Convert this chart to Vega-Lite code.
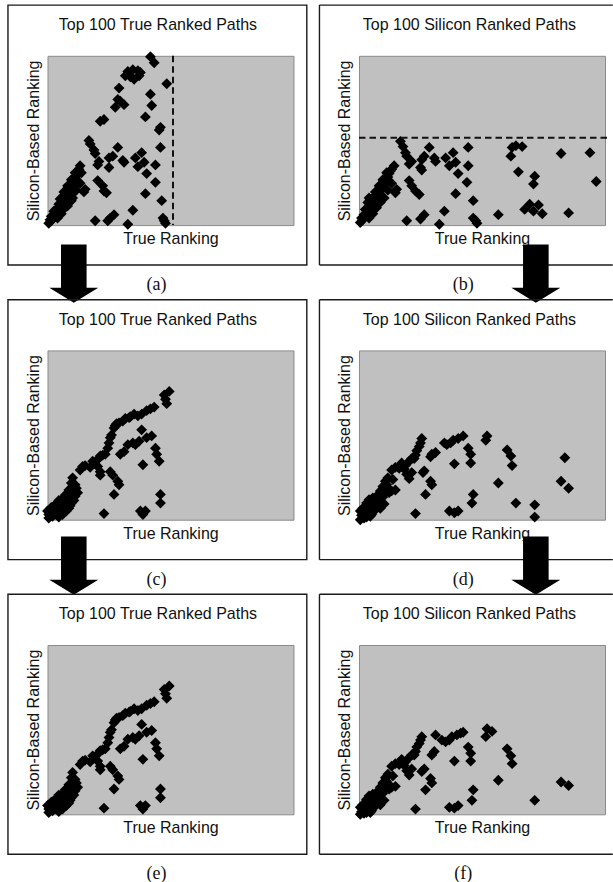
{
  "$schema": "https://vega.github.io/schema/vega-lite/v6.json",
  "background": "white",
  "padding": {"left": 6.5, "top": 3.8, "right": 0, "bottom": 0},
  "autosize": {"type": "pad"},
  "columns": 2,
  "spacing": {"row": 124.6, "column": 65.5},
  "bounds": "flush",
  "datasets": {
    "a": [
      {"true_rank":82,"si_rank":193},{"true_rank":85,"si_rank":186},{"true_rank":64,"si_rank":176},{"true_rank":68,"si_rank":178},{"true_rank":72,"si_rank":177},{"true_rank":74,"si_rank":175},{"true_rank":62,"si_rank":171},{"true_rank":66,"si_rank":170},{"true_rank":69,"si_rank":167},{"true_rank":73,"si_rank":171},{"true_rank":95,"si_rank":162},{"true_rank":57,"si_rank":157},{"true_rank":82,"si_rank":150},{"true_rank":56,"si_rank":144},{"true_rank":58,"si_rank":142},{"true_rank":61,"si_rank":138},{"true_rank":83,"si_rank":137},{"true_rank":54,"si_rank":135},{"true_rank":78,"si_rank":124},{"true_rank":42,"si_rank":119},{"true_rank":45,"si_rank":121},{"true_rank":90,"si_rank":112},{"true_rank":89,"si_rank":109},{"true_rank":33,"si_rank":97},{"true_rank":34,"si_rank":93},{"true_rank":56,"si_rank":89},{"true_rank":37,"si_rank":86},{"true_rank":38,"si_rank":82},{"true_rank":90,"si_rank":89},{"true_rank":75,"si_rank":83},{"true_rank":52,"si_rank":79},{"true_rank":49,"si_rank":77},{"true_rank":70,"si_rank":77},{"true_rank":77,"si_rank":72},{"true_rank":72,"si_rank":67},{"true_rank":41,"si_rank":73},{"true_rank":40,"si_rank":69},{"true_rank":60,"si_rank":74},{"true_rank":61,"si_rank":72},{"true_rank":86,"si_rank":69},{"true_rank":49,"si_rank":66},{"true_rank":79,"si_rank":59},{"true_rank":26,"si_rank":68},{"true_rank":25,"si_rank":64},{"true_rank":24,"si_rank":58},{"true_rank":22,"si_rank":54},{"true_rank":21,"si_rank":51},{"true_rank":19,"si_rank":47},{"true_rank":40,"si_rank":51},{"true_rank":86,"si_rank":49},{"true_rank":44,"si_rank":45},{"true_rank":45,"si_rank":39},{"true_rank":47,"si_rank":37},{"true_rank":30,"si_rank":41},{"true_rank":29,"si_rank":38},{"true_rank":15,"si_rank":39},{"true_rank":17,"si_rank":35},{"true_rank":13,"si_rank":33},{"true_rank":19,"si_rank":31},{"true_rank":16,"si_rank":28},{"true_rank":12,"si_rank":28},{"true_rank":9,"si_rank":24},{"true_rank":13,"si_rank":22},{"true_rank":7,"si_rank":18},{"true_rank":8,"si_rank":12},{"true_rank":5,"si_rank":8},{"true_rank":3,"si_rank":5},{"true_rank":1,"si_rank":2},{"true_rank":16,"si_rank":22},{"true_rank":19,"si_rank":28},{"true_rank":78,"si_rank":36},{"true_rank":91,"si_rank":28},{"true_rank":68,"si_rank":17},{"true_rank":53,"si_rank":12},{"true_rank":50,"si_rank":8},{"true_rank":48,"si_rank":5},{"true_rank":38,"si_rank":5},{"true_rank":64,"si_rank":1},{"true_rank":92,"si_rank":8},{"true_rank":93,"si_rank":5},{"true_rank":94,"si_rank":2},{"true_rank":10,"si_rank":14},{"true_rank":11,"si_rank":18},{"true_rank":14,"si_rank":26},{"true_rank":18,"si_rank":33},{"true_rank":20,"si_rank":42},{"true_rank":23,"si_rank":50},{"true_rank":4,"si_rank":10},{"true_rank":6,"si_rank":14},{"true_rank":2,"si_rank":6},{"true_rank":17,"si_rank":44},{"true_rank":27,"si_rank":60},{"true_rank":15,"si_rank":30},{"true_rank":12,"si_rank":20},{"true_rank":20,"si_rank":36},{"true_rank":22,"si_rank":46},{"true_rank":8,"si_rank":8},{"true_rank":11,"si_rank":13},{"true_rank":14,"si_rank":20},{"true_rank":17,"si_rank":26},{"true_rank":20,"si_rank":31},{"true_rank":23,"si_rank":40},{"true_rank":26,"si_rank":48},{"true_rank":3,"si_rank":10},{"true_rank":5,"si_rank":16},{"true_rank":10,"si_rank":30},{"true_rank":13,"si_rank":38},{"true_rank":16,"si_rank":45},{"true_rank":19,"si_rank":52},{"true_rank":22,"si_rank":60}
    ],
    "b": [
      {"true_rank":33,"si_rank":96},{"true_rank":35,"si_rank":90},{"true_rank":37,"si_rank":83},{"true_rank":38,"si_rank":79},{"true_rank":56,"si_rank":89},{"true_rank":52,"si_rank":79},{"true_rank":50,"si_rank":75},{"true_rank":60,"si_rank":77},{"true_rank":61,"si_rank":73},{"true_rank":69,"si_rank":77},{"true_rank":75,"si_rank":83},{"true_rank":77,"si_rank":72},{"true_rank":72,"si_rank":68},{"true_rank":79,"si_rank":59},{"true_rank":87,"si_rank":89},{"true_rank":87,"si_rank":68},{"true_rank":86,"si_rank":49},{"true_rank":42,"si_rank":73},{"true_rank":40,"si_rank":70},{"true_rank":49,"si_rank":66},{"true_rank":50,"si_rank":63},{"true_rank":40,"si_rank":51},{"true_rank":42,"si_rank":45},{"true_rank":30,"si_rank":41},{"true_rank":29,"si_rank":37},{"true_rank":45,"si_rank":39},{"true_rank":48,"si_rank":35},{"true_rank":77,"si_rank":36},{"true_rank":91,"si_rank":28},{"true_rank":122,"si_rank":89},{"true_rank":125,"si_rank":91},{"true_rank":121,"si_rank":79},{"true_rank":130,"si_rank":90},{"true_rank":127,"si_rank":61},{"true_rank":140,"si_rank":56},{"true_rank":139,"si_rank":47},{"true_rank":161,"si_rank":82},{"true_rank":184,"si_rank":83},{"true_rank":189,"si_rank":50},{"true_rank":132,"si_rank":18},{"true_rank":136,"si_rank":24},{"true_rank":139,"si_rank":16},{"true_rank":143,"si_rank":23},{"true_rank":146,"si_rank":13},{"true_rank":167,"si_rank":14},{"true_rank":111,"si_rank":12},{"true_rank":68,"si_rank":16},{"true_rank":52,"si_rank":12},{"true_rank":49,"si_rank":7},{"true_rank":38,"si_rank":5},{"true_rank":64,"si_rank":1},{"true_rank":91,"si_rank":8},{"true_rank":93,"si_rank":5},{"true_rank":94,"si_rank":2},{"true_rank":28,"si_rank":68},{"true_rank":26,"si_rank":64},{"true_rank":24,"si_rank":59},{"true_rank":23,"si_rank":55},{"true_rank":21,"si_rank":51},{"true_rank":20,"si_rank":46},{"true_rank":17,"si_rank":39},{"true_rank":16,"si_rank":35},{"true_rank":13,"si_rank":31},{"true_rank":11,"si_rank":28},{"true_rank":8,"si_rank":31},{"true_rank":7,"si_rank":26},{"true_rank":12,"si_rank":24},{"true_rank":9,"si_rank":20},{"true_rank":5,"si_rank":18},{"true_rank":4,"si_rank":12},{"true_rank":2,"si_rank":8},{"true_rank":1,"si_rank":3},{"true_rank":15,"si_rank":28},{"true_rank":18,"si_rank":31},{"true_rank":19,"si_rank":43},{"true_rank":3,"si_rank":6},{"true_rank":6,"si_rank":14},{"true_rank":10,"si_rank":22},{"true_rank":14,"si_rank":34},{"true_rank":22,"si_rank":48},{"true_rank":25,"si_rank":62},{"true_rank":8,"si_rank":16},{"true_rank":8,"si_rank":8},{"true_rank":11,"si_rank":13},{"true_rank":14,"si_rank":20},{"true_rank":17,"si_rank":26},{"true_rank":20,"si_rank":31},{"true_rank":23,"si_rank":40},{"true_rank":26,"si_rank":48},{"true_rank":10,"si_rank":30},{"true_rank":13,"si_rank":38},{"true_rank":16,"si_rank":45},{"true_rank":19,"si_rank":52},{"true_rank":22,"si_rank":60}
    ],
    "c": [
      {"true_rank":97,"si_rank":147},{"true_rank":93,"si_rank":143},{"true_rank":94,"si_rank":138},{"true_rank":95,"si_rank":133},{"true_rank":85,"si_rank":129},{"true_rank":82,"si_rank":127},{"true_rank":79,"si_rank":125},{"true_rank":75,"si_rank":121},{"true_rank":72,"si_rank":119},{"true_rank":69,"si_rank":121},{"true_rank":65,"si_rank":117},{"true_rank":62,"si_rank":116},{"true_rank":60,"si_rank":113},{"true_rank":57,"si_rank":111},{"true_rank":54,"si_rank":108},{"true_rank":53,"si_rank":105},{"true_rank":75,"si_rank":103},{"true_rank":83,"si_rank":96},{"true_rank":79,"si_rank":94},{"true_rank":73,"si_rank":90},{"true_rank":70,"si_rank":86},{"true_rank":68,"si_rank":88},{"true_rank":86,"si_rank":82},{"true_rank":87,"si_rank":75},{"true_rank":89,"si_rank":67},{"true_rank":76,"si_rank":63},{"true_rank":64,"si_rank":86},{"true_rank":61,"si_rank":78},{"true_rank":58,"si_rank":75},{"true_rank":50,"si_rank":94},{"true_rank":49,"si_rank":88},{"true_rank":48,"si_rank":82},{"true_rank":46,"si_rank":75},{"true_rank":42,"si_rank":73},{"true_rank":40,"si_rank":69},{"true_rank":37,"si_rank":65},{"true_rank":34,"si_rank":60},{"true_rank":28,"si_rank":61},{"true_rank":26,"si_rank":57},{"true_rank":40,"si_rank":61},{"true_rank":42,"si_rank":55},{"true_rank":42,"si_rank":51},{"true_rank":50,"si_rank":55},{"true_rank":52,"si_rank":51},{"true_rank":56,"si_rank":44},{"true_rank":57,"si_rank":40},{"true_rank":53,"si_rank":29},{"true_rank":90,"si_rank":29},{"true_rank":90,"si_rank":19},{"true_rank":78,"si_rank":10},{"true_rank":74,"si_rank":10},{"true_rank":76,"si_rank":6},{"true_rank":45,"si_rank":7},{"true_rank":20,"si_rank":48},{"true_rank":19,"si_rank":42},{"true_rank":23,"si_rank":36},{"true_rank":24,"si_rank":31},{"true_rank":20,"si_rank":29},{"true_rank":16,"si_rank":29},{"true_rank":13,"si_rank":25},{"true_rank":11,"si_rank":21},{"true_rank":8,"si_rank":19},{"true_rank":5,"si_rank":15},{"true_rank":3,"si_rank":11},{"true_rank":1,"si_rank":6},{"true_rank":4,"si_rank":4},{"true_rank":7,"si_rank":6},{"true_rank":9,"si_rank":3},{"true_rank":12,"si_rank":6},{"true_rank":15,"si_rank":10},{"true_rank":17,"si_rank":13},{"true_rank":19,"si_rank":19},{"true_rank":16,"si_rank":20},{"true_rank":12,"si_rank":15},{"true_rank":7,"si_rank":10},{"true_rank":0,"si_rank":10},{"true_rank":1,"si_rank":2},{"true_rank":30,"si_rank":62},{"true_rank":36,"si_rank":67},{"true_rank":44,"si_rank":74},{"true_rank":51,"si_rank":97},{"true_rank":55,"si_rank":110},{"true_rank":66,"si_rank":118},{"true_rank":22,"si_rank":40},{"true_rank":18,"si_rank":26},{"true_rank":10,"si_rank":12},{"true_rank":14,"si_rank":17},{"true_rank":6,"si_rank":8},{"true_rank":10,"si_rank":8},{"true_rank":14,"si_rank":13},{"true_rank":18,"si_rank":16},{"true_rank":21,"si_rank":22},{"true_rank":22,"si_rank":27},{"true_rank":3,"si_rank":14},{"true_rank":6,"si_rank":17},{"true_rank":9,"si_rank":22},{"true_rank":14,"si_rank":28},{"true_rank":17,"si_rank":34},{"true_rank":21,"si_rank":38}
    ],
    "d": [
      {"true_rank":50,"si_rank":93},{"true_rank":49,"si_rank":88},{"true_rank":48,"si_rank":84},{"true_rank":46,"si_rank":79},{"true_rank":45,"si_rank":74},{"true_rank":42,"si_rank":70},{"true_rank":68,"si_rank":88},{"true_rank":70,"si_rank":86},{"true_rank":73,"si_rank":88},{"true_rank":75,"si_rank":91},{"true_rank":79,"si_rank":93},{"true_rank":83,"si_rank":96},{"true_rank":61,"si_rank":77},{"true_rank":58,"si_rank":75},{"true_rank":57,"si_rank":72},{"true_rank":87,"si_rank":82},{"true_rank":89,"si_rank":75},{"true_rank":89,"si_rank":65},{"true_rank":102,"si_rank":96},{"true_rank":101,"si_rank":91},{"true_rank":76,"si_rank":64},{"true_rank":118,"si_rank":80},{"true_rank":121,"si_rank":73},{"true_rank":122,"si_rank":62},{"true_rank":164,"si_rank":71},{"true_rank":111,"si_rank":42},{"true_rank":161,"si_rank":44},{"true_rank":167,"si_rank":36},{"true_rank":125,"si_rank":19},{"true_rank":140,"si_rank":17},{"true_rank":140,"si_rank":3},{"true_rank":91,"si_rank":29},{"true_rank":90,"si_rank":19},{"true_rank":79,"si_rank":10},{"true_rank":76,"si_rank":8},{"true_rank":72,"si_rank":10},{"true_rank":45,"si_rank":7},{"true_rank":52,"si_rank":56},{"true_rank":51,"si_rank":54},{"true_rank":57,"si_rank":44},{"true_rank":58,"si_rank":40},{"true_rank":53,"si_rank":29},{"true_rank":40,"si_rank":67},{"true_rank":37,"si_rank":62},{"true_rank":34,"si_rank":65},{"true_rank":32,"si_rank":59},{"true_rank":29,"si_rank":60},{"true_rank":26,"si_rank":57},{"true_rank":38,"si_rank":52},{"true_rank":40,"si_rank":47},{"true_rank":42,"si_rank":54},{"true_rank":23,"si_rank":48},{"true_rank":21,"si_rank":44},{"true_rank":29,"si_rank":34},{"true_rank":26,"si_rank":33},{"true_rank":24,"si_rank":31},{"true_rank":19,"si_rank":38},{"true_rank":17,"si_rank":33},{"true_rank":20,"si_rank":18},{"true_rank":17,"si_rank":13},{"true_rank":15,"si_rank":18},{"true_rank":12,"si_rank":10},{"true_rank":9,"si_rank":4},{"true_rank":7,"si_rank":6},{"true_rank":4,"si_rank":2},{"true_rank":1,"si_rank":0},{"true_rank":1,"si_rank":10},{"true_rank":3,"si_rank":13},{"true_rank":6,"si_rank":19},{"true_rank":8,"si_rank":23},{"true_rank":11,"si_rank":25},{"true_rank":14,"si_rank":27},{"true_rank":11,"si_rank":17},{"true_rank":8,"si_rank":13},{"true_rank":4,"si_rank":8},{"true_rank":14,"si_rank":22},{"true_rank":18,"si_rank":28},{"true_rank":22,"si_rank":40},{"true_rank":27,"si_rank":46},{"true_rank":36,"si_rank":58},{"true_rank":44,"si_rank":70},{"true_rank":10,"si_rank":6},{"true_rank":6,"si_rank":3},{"true_rank":5,"si_rank":5},{"true_rank":9,"si_rank":9},{"true_rank":13,"si_rank":14},{"true_rank":16,"si_rank":22},{"true_rank":19,"si_rank":26},{"true_rank":2,"si_rank":5},{"true_rank":6,"si_rank":11},{"true_rank":10,"si_rank":20},{"true_rank":20,"si_rank":30},{"true_rank":23,"si_rank":36}
    ],
    "f": [
      {"true_rank":102,"si_rank":98},{"true_rank":106,"si_rank":95},{"true_rank":101,"si_rank":89},{"true_rank":118,"si_rank":75},{"true_rank":121,"si_rank":67},{"true_rank":122,"si_rank":58},{"true_rank":111,"si_rank":39},{"true_rank":161,"si_rank":37},{"true_rank":167,"si_rank":33},{"true_rank":140,"si_rank":16},{"true_rank":91,"si_rank":28},{"true_rank":90,"si_rank":16},{"true_rank":79,"si_rank":10},{"true_rank":76,"si_rank":7},{"true_rank":72,"si_rank":8},{"true_rank":45,"si_rank":6},{"true_rank":61,"si_rank":91},{"true_rank":66,"si_rank":85},{"true_rank":69,"si_rank":83},{"true_rank":72,"si_rank":85},{"true_rank":74,"si_rank":89},{"true_rank":78,"si_rank":91},{"true_rank":81,"si_rank":93},{"true_rank":83,"si_rank":94},{"true_rank":50,"si_rank":89},{"true_rank":49,"si_rank":85},{"true_rank":48,"si_rank":81},{"true_rank":46,"si_rank":77},{"true_rank":45,"si_rank":72},{"true_rank":42,"si_rank":68},{"true_rank":60,"si_rank":72},{"true_rank":58,"si_rank":68},{"true_rank":87,"si_rank":77},{"true_rank":89,"si_rank":70},{"true_rank":89,"si_rank":61},{"true_rank":76,"si_rank":61},{"true_rank":52,"si_rank":52},{"true_rank":50,"si_rank":49},{"true_rank":57,"si_rank":41},{"true_rank":58,"si_rank":36},{"true_rank":53,"si_rank":28},{"true_rank":40,"si_rank":65},{"true_rank":37,"si_rank":60},{"true_rank":34,"si_rank":63},{"true_rank":32,"si_rank":57},{"true_rank":29,"si_rank":58},{"true_rank":26,"si_rank":55},{"true_rank":38,"si_rank":50},{"true_rank":40,"si_rank":45},{"true_rank":42,"si_rank":52},{"true_rank":23,"si_rank":46},{"true_rank":21,"si_rank":42},{"true_rank":29,"si_rank":32},{"true_rank":26,"si_rank":31},{"true_rank":24,"si_rank":29},{"true_rank":19,"si_rank":36},{"true_rank":17,"si_rank":31},{"true_rank":20,"si_rank":16},{"true_rank":17,"si_rank":11},{"true_rank":15,"si_rank":16},{"true_rank":12,"si_rank":8},{"true_rank":9,"si_rank":2},{"true_rank":7,"si_rank":4},{"true_rank":4,"si_rank":1},{"true_rank":1,"si_rank":0},{"true_rank":1,"si_rank":8},{"true_rank":3,"si_rank":11},{"true_rank":6,"si_rank":17},{"true_rank":8,"si_rank":21},{"true_rank":11,"si_rank":23},{"true_rank":14,"si_rank":25},{"true_rank":11,"si_rank":15},{"true_rank":8,"si_rank":11},{"true_rank":4,"si_rank":6},{"true_rank":14,"si_rank":20},{"true_rank":18,"si_rank":26},{"true_rank":22,"si_rank":38},{"true_rank":27,"si_rank":44},{"true_rank":36,"si_rank":56},{"true_rank":44,"si_rank":68},{"true_rank":10,"si_rank":4},{"true_rank":6,"si_rank":2},{"true_rank":5,"si_rank":3},{"true_rank":9,"si_rank":7},{"true_rank":13,"si_rank":12},{"true_rank":16,"si_rank":20},{"true_rank":19,"si_rank":24},{"true_rank":2,"si_rank":3},{"true_rank":6,"si_rank":9},{"true_rank":10,"si_rank":18},{"true_rank":20,"si_rank":28},{"true_rank":23,"si_rank":34}
    ]
  },
  "concat": [
    {
      "width": 246, "height": 169.3,
      "data": {"values": [{"title": "Top 100 True Ranked Paths", "label": "(a)"}]},
      "layer": [
        {"mark": {"type": "rect", "fillOpacity": 0, "stroke": "#1a1a1a", "strokeWidth": 1.4, "clip": false},
         "encoding": {"x": {"datum": -31.5, "type": "quantitative", "scale": {"domain": [0, 196]}, "axis": {"title": "True Ranking"}}, "x2": {"datum": 206.6}, "y": {"datum": -45.8, "type": "quantitative", "scale": {"domain": [0, 194]}, "axis": {"title": "Silicon-Based Ranking"}}, "y2": {"datum": 252.1}}},
        {"data": {"name": "a"}, "mark": {"type": "point", "shape": "diamond", "filled": true, "size": 118, "color": "#000", "opacity": 1},
         "encoding": {"x": {"field": "true_rank", "type": "quantitative", "scale": {"domain": [0, 196]}, "axis": {"title": "True Ranking"}}, "y": {"field": "si_rank", "type": "quantitative", "scale": {"domain": [0, 194]}, "axis": {"title": "Silicon-Based Ranking"}}}},
        {"mark": {"type": "rule", "strokeDash": [6.5, 4], "strokeWidth": 2, "color": "#111", "clip": false},
         "encoding": {"x": {"datum": 100, "type": "quantitative", "scale": {"domain": [0, 196]}, "axis": {"title": "True Ranking"}}}},
        {"mark": {"type": "text", "font": "Liberation Sans", "fontSize": 16, "align": "center", "baseline": "alphabetic", "color": "#111", "clip": false},
         "encoding": {"x": {"datum": 88, "type": "quantitative", "scale": {"domain": [0, 196]}, "axis": {"title": "True Ranking"}}, "y": {"datum": 223.6, "type": "quantitative", "scale": {"domain": [0, 194]}, "axis": {"title": "Silicon-Based Ranking"}}, "text": {"field": "title", "type": "nominal"}}},
        {"mark": {"type": "text", "font": "Liberation Serif", "fontSize": 18, "align": "center", "baseline": "alphabetic", "color": "#111", "clip": false},
         "encoding": {"x": {"datum": 86.9, "type": "quantitative", "scale": {"domain": [0, 196]}, "axis": {"title": "True Ranking"}}, "y": {"datum": -74.3, "type": "quantitative", "scale": {"domain": [0, 194]}, "axis": {"title": "Silicon-Based Ranking"}}, "text": {"field": "label", "type": "nominal"}}},
        {"mark": {"type": "point", "shape": "M-0.522,-1.771L0.522,-1.771L0.522,0L1,0L0,0.612L-1,0L-0.522,0Z", "filled": true, "size": 2401, "color": "#000", "opacity": 1, "clip": false},
         "encoding": {"x": {"datum": 20.95, "type": "quantitative", "scale": {"domain": [0, 196]}, "axis": {"title": "True Ranking"}}, "y": {"datum": -71.85, "type": "quantitative", "scale": {"domain": [0, 194]}, "axis": {"title": "Silicon-Based Ranking"}}}}
      ]
    },
    {
      "width": 246, "height": 169.3,
      "data": {"values": [{"title": "Top 100 Silicon Ranked Paths", "label": "(b)"}]},
      "layer": [
        {"mark": {"type": "rule", "stroke": "#1a1a1a", "strokeWidth": 1.4, "clip": false},
         "encoding": {"x": {"datum": -31.5, "type": "quantitative", "scale": {"domain": [0, 196]}, "axis": {"title": "True Ranking"}}, "x2": {"datum": 202.2}, "y": {"datum": 252.1, "type": "quantitative", "scale": {"domain": [0, 194]}, "axis": {"title": "Silicon-Based Ranking"}}}},
        {"mark": {"type": "rule", "stroke": "#1a1a1a", "strokeWidth": 1.4, "clip": false},
         "encoding": {"x": {"datum": -31.5, "type": "quantitative", "scale": {"domain": [0, 196]}, "axis": {"title": "True Ranking"}}, "x2": {"datum": 202.2}, "y": {"datum": -45.8, "type": "quantitative", "scale": {"domain": [0, 194]}, "axis": {"title": "Silicon-Based Ranking"}}}},
        {"mark": {"type": "rule", "stroke": "#1a1a1a", "strokeWidth": 1.4, "clip": false},
         "encoding": {"x": {"datum": -31.5, "type": "quantitative", "scale": {"domain": [0, 196]}, "axis": {"title": "True Ranking"}}, "y": {"datum": -45.8, "type": "quantitative", "scale": {"domain": [0, 194]}, "axis": {"title": "Silicon-Based Ranking"}}, "y2": {"datum": 252.1}}},
        {"data": {"name": "b"}, "mark": {"type": "point", "shape": "diamond", "filled": true, "size": 118, "color": "#000", "opacity": 1},
         "encoding": {"x": {"field": "true_rank", "type": "quantitative", "scale": {"domain": [0, 196]}, "axis": {"title": "True Ranking"}}, "y": {"field": "si_rank", "type": "quantitative", "scale": {"domain": [0, 194]}, "axis": {"title": "Silicon-Based Ranking"}}}},
        {"mark": {"type": "rule", "strokeDash": [6.5, 4], "strokeWidth": 2, "color": "#111", "clip": false},
         "encoding": {"x": {"datum": 0, "type": "quantitative", "scale": {"domain": [0, 196]}, "axis": {"title": "True Ranking"}}, "x2": {"datum": 199.5}, "y": {"datum": 100, "type": "quantitative", "scale": {"domain": [0, 194]}, "axis": {"title": "Silicon-Based Ranking"}}}},
        {"mark": {"type": "text", "font": "Liberation Sans", "fontSize": 16, "align": "center", "baseline": "alphabetic", "color": "#111", "clip": false},
         "encoding": {"x": {"datum": 88, "type": "quantitative", "scale": {"domain": [0, 196]}, "axis": {"title": "True Ranking"}}, "y": {"datum": 223.6, "type": "quantitative", "scale": {"domain": [0, 194]}, "axis": {"title": "Silicon-Based Ranking"}}, "text": {"field": "title", "type": "nominal"}}},
        {"mark": {"type": "text", "font": "Liberation Serif", "fontSize": 18, "align": "center", "baseline": "alphabetic", "color": "#111", "clip": false},
         "encoding": {"x": {"datum": 83.1, "type": "quantitative", "scale": {"domain": [0, 196]}, "axis": {"title": "True Ranking"}}, "y": {"datum": -74.3, "type": "quantitative", "scale": {"domain": [0, 194]}, "axis": {"title": "Silicon-Based Ranking"}}, "text": {"field": "label", "type": "nominal"}}},
        {"mark": {"type": "point", "shape": "M-0.522,-1.771L0.522,-1.771L0.522,0L1,0L0,0.612L-1,0L-0.522,0Z", "filled": true, "size": 2401, "color": "#000", "opacity": 1, "clip": false},
         "encoding": {"x": {"datum": 140.9, "type": "quantitative", "scale": {"domain": [0, 196]}, "axis": {"title": "True Ranking"}}, "y": {"datum": -71.85, "type": "quantitative", "scale": {"domain": [0, 194]}, "axis": {"title": "Silicon-Based Ranking"}}}}
      ]
    },
    {
      "width": 246, "height": 169.3,
      "data": {"values": [{"title": "Top 100 True Ranked Paths", "label": "(c)"}]},
      "layer": [
        {"mark": {"type": "rect", "fillOpacity": 0, "stroke": "#1a1a1a", "strokeWidth": 1.4, "clip": false},
         "encoding": {"x": {"datum": -31.5, "type": "quantitative", "scale": {"domain": [0, 196]}, "axis": {"title": "True Ranking"}}, "x2": {"datum": 206.6}, "y": {"datum": -45.8, "type": "quantitative", "scale": {"domain": [0, 194]}, "axis": {"title": "Silicon-Based Ranking"}}, "y2": {"datum": 252.1}}},
        {"data": {"name": "c"}, "mark": {"type": "point", "shape": "diamond", "filled": true, "size": 118, "color": "#000", "opacity": 1},
         "encoding": {"x": {"field": "true_rank", "type": "quantitative", "scale": {"domain": [0, 196]}, "axis": {"title": "True Ranking"}}, "y": {"field": "si_rank", "type": "quantitative", "scale": {"domain": [0, 194]}, "axis": {"title": "Silicon-Based Ranking"}}}},
        {"mark": {"type": "text", "font": "Liberation Sans", "fontSize": 16, "align": "center", "baseline": "alphabetic", "color": "#111", "clip": false},
         "encoding": {"x": {"datum": 88, "type": "quantitative", "scale": {"domain": [0, 196]}, "axis": {"title": "True Ranking"}}, "y": {"datum": 223.6, "type": "quantitative", "scale": {"domain": [0, 194]}, "axis": {"title": "Silicon-Based Ranking"}}, "text": {"field": "title", "type": "nominal"}}},
        {"mark": {"type": "text", "font": "Liberation Serif", "fontSize": 18, "align": "center", "baseline": "alphabetic", "color": "#111", "clip": false},
         "encoding": {"x": {"datum": 86.9, "type": "quantitative", "scale": {"domain": [0, 196]}, "axis": {"title": "True Ranking"}}, "y": {"datum": -74.3, "type": "quantitative", "scale": {"domain": [0, 194]}, "axis": {"title": "Silicon-Based Ranking"}}, "text": {"field": "label", "type": "nominal"}}},
        {"mark": {"type": "point", "shape": "M-0.522,-1.771L0.522,-1.771L0.522,0L1,0L0,0.612L-1,0L-0.522,0Z", "filled": true, "size": 2401, "color": "#000", "opacity": 1, "clip": false},
         "encoding": {"x": {"datum": 20.95, "type": "quantitative", "scale": {"domain": [0, 196]}, "axis": {"title": "True Ranking"}}, "y": {"datum": -68.9, "type": "quantitative", "scale": {"domain": [0, 194]}, "axis": {"title": "Silicon-Based Ranking"}}}}
      ]
    },
    {
      "width": 246, "height": 169.3,
      "data": {"values": [{"title": "Top 100 Silicon Ranked Paths", "label": "(d)"}]},
      "layer": [
        {"mark": {"type": "rule", "stroke": "#1a1a1a", "strokeWidth": 1.4, "clip": false},
         "encoding": {"x": {"datum": -31.5, "type": "quantitative", "scale": {"domain": [0, 196]}, "axis": {"title": "True Ranking"}}, "x2": {"datum": 202.2}, "y": {"datum": 252.1, "type": "quantitative", "scale": {"domain": [0, 194]}, "axis": {"title": "Silicon-Based Ranking"}}}},
        {"mark": {"type": "rule", "stroke": "#1a1a1a", "strokeWidth": 1.4, "clip": false},
         "encoding": {"x": {"datum": -31.5, "type": "quantitative", "scale": {"domain": [0, 196]}, "axis": {"title": "True Ranking"}}, "x2": {"datum": 202.2}, "y": {"datum": -45.8, "type": "quantitative", "scale": {"domain": [0, 194]}, "axis": {"title": "Silicon-Based Ranking"}}}},
        {"mark": {"type": "rule", "stroke": "#1a1a1a", "strokeWidth": 1.4, "clip": false},
         "encoding": {"x": {"datum": -31.5, "type": "quantitative", "scale": {"domain": [0, 196]}, "axis": {"title": "True Ranking"}}, "y": {"datum": -45.8, "type": "quantitative", "scale": {"domain": [0, 194]}, "axis": {"title": "Silicon-Based Ranking"}}, "y2": {"datum": 252.1}}},
        {"data": {"name": "d"}, "mark": {"type": "point", "shape": "diamond", "filled": true, "size": 118, "color": "#000", "opacity": 1},
         "encoding": {"x": {"field": "true_rank", "type": "quantitative", "scale": {"domain": [0, 196]}, "axis": {"title": "True Ranking"}}, "y": {"field": "si_rank", "type": "quantitative", "scale": {"domain": [0, 194]}, "axis": {"title": "Silicon-Based Ranking"}}}},
        {"mark": {"type": "text", "font": "Liberation Sans", "fontSize": 16, "align": "center", "baseline": "alphabetic", "color": "#111", "clip": false},
         "encoding": {"x": {"datum": 88, "type": "quantitative", "scale": {"domain": [0, 196]}, "axis": {"title": "True Ranking"}}, "y": {"datum": 223.6, "type": "quantitative", "scale": {"domain": [0, 194]}, "axis": {"title": "Silicon-Based Ranking"}}, "text": {"field": "title", "type": "nominal"}}},
        {"mark": {"type": "text", "font": "Liberation Serif", "fontSize": 18, "align": "center", "baseline": "alphabetic", "color": "#111", "clip": false},
         "encoding": {"x": {"datum": 83.1, "type": "quantitative", "scale": {"domain": [0, 196]}, "axis": {"title": "True Ranking"}}, "y": {"datum": -74.3, "type": "quantitative", "scale": {"domain": [0, 194]}, "axis": {"title": "Silicon-Based Ranking"}}, "text": {"field": "label", "type": "nominal"}}},
        {"mark": {"type": "point", "shape": "M-0.522,-1.771L0.522,-1.771L0.522,0L1,0L0,0.612L-1,0L-0.522,0Z", "filled": true, "size": 2401, "color": "#000", "opacity": 1, "clip": false},
         "encoding": {"x": {"datum": 140.9, "type": "quantitative", "scale": {"domain": [0, 196]}, "axis": {"title": "True Ranking"}}, "y": {"datum": -68.9, "type": "quantitative", "scale": {"domain": [0, 194]}, "axis": {"title": "Silicon-Based Ranking"}}}}
      ]
    },
    {
      "width": 246, "height": 169.3,
      "data": {"values": [{"title": "Top 100 True Ranked Paths", "label": "(e)"}]},
      "layer": [
        {"mark": {"type": "rect", "fillOpacity": 0, "stroke": "#1a1a1a", "strokeWidth": 1.4, "clip": false},
         "encoding": {"x": {"datum": -31.5, "type": "quantitative", "scale": {"domain": [0, 196]}, "axis": {"title": "True Ranking"}}, "x2": {"datum": 206.6}, "y": {"datum": -45.8, "type": "quantitative", "scale": {"domain": [0, 194]}, "axis": {"title": "Silicon-Based Ranking"}}, "y2": {"datum": 252.1}}},
        {"data": {"name": "c"}, "mark": {"type": "point", "shape": "diamond", "filled": true, "size": 118, "color": "#000", "opacity": 1},
         "encoding": {"x": {"field": "true_rank", "type": "quantitative", "scale": {"domain": [0, 196]}, "axis": {"title": "True Ranking"}}, "y": {"field": "si_rank", "type": "quantitative", "scale": {"domain": [0, 194]}, "axis": {"title": "Silicon-Based Ranking"}}}},
        {"mark": {"type": "text", "font": "Liberation Sans", "fontSize": 16, "align": "center", "baseline": "alphabetic", "color": "#111", "clip": false},
         "encoding": {"x": {"datum": 88, "type": "quantitative", "scale": {"domain": [0, 196]}, "axis": {"title": "True Ranking"}}, "y": {"datum": 223.6, "type": "quantitative", "scale": {"domain": [0, 194]}, "axis": {"title": "Silicon-Based Ranking"}}, "text": {"field": "title", "type": "nominal"}}},
        {"mark": {"type": "text", "font": "Liberation Serif", "fontSize": 18, "align": "center", "baseline": "alphabetic", "color": "#111", "clip": false},
         "encoding": {"x": {"datum": 86.9, "type": "quantitative", "scale": {"domain": [0, 196]}, "axis": {"title": "True Ranking"}}, "y": {"datum": -74.3, "type": "quantitative", "scale": {"domain": [0, 194]}, "axis": {"title": "Silicon-Based Ranking"}}, "text": {"field": "label", "type": "nominal"}}}
      ]
    },
    {
      "width": 246, "height": 169.3,
      "data": {"values": [{"title": "Top 100 Silicon Ranked Paths", "label": "(f)"}]},
      "layer": [
        {"mark": {"type": "rule", "stroke": "#1a1a1a", "strokeWidth": 1.4, "clip": false},
         "encoding": {"x": {"datum": -31.5, "type": "quantitative", "scale": {"domain": [0, 196]}, "axis": {"title": "True Ranking"}}, "x2": {"datum": 202.2}, "y": {"datum": 252.1, "type": "quantitative", "scale": {"domain": [0, 194]}, "axis": {"title": "Silicon-Based Ranking"}}}},
        {"mark": {"type": "rule", "stroke": "#1a1a1a", "strokeWidth": 1.4, "clip": false},
         "encoding": {"x": {"datum": -31.5, "type": "quantitative", "scale": {"domain": [0, 196]}, "axis": {"title": "True Ranking"}}, "x2": {"datum": 202.2}, "y": {"datum": -45.8, "type": "quantitative", "scale": {"domain": [0, 194]}, "axis": {"title": "Silicon-Based Ranking"}}}},
        {"mark": {"type": "rule", "stroke": "#1a1a1a", "strokeWidth": 1.4, "clip": false},
         "encoding": {"x": {"datum": -31.5, "type": "quantitative", "scale": {"domain": [0, 196]}, "axis": {"title": "True Ranking"}}, "y": {"datum": -45.8, "type": "quantitative", "scale": {"domain": [0, 194]}, "axis": {"title": "Silicon-Based Ranking"}}, "y2": {"datum": 252.1}}},
        {"data": {"name": "f"}, "mark": {"type": "point", "shape": "diamond", "filled": true, "size": 118, "color": "#000", "opacity": 1},
         "encoding": {"x": {"field": "true_rank", "type": "quantitative", "scale": {"domain": [0, 196]}, "axis": {"title": "True Ranking"}}, "y": {"field": "si_rank", "type": "quantitative", "scale": {"domain": [0, 194]}, "axis": {"title": "Silicon-Based Ranking"}}}},
        {"mark": {"type": "text", "font": "Liberation Sans", "fontSize": 16, "align": "center", "baseline": "alphabetic", "color": "#111", "clip": false},
         "encoding": {"x": {"datum": 88, "type": "quantitative", "scale": {"domain": [0, 196]}, "axis": {"title": "True Ranking"}}, "y": {"datum": 223.6, "type": "quantitative", "scale": {"domain": [0, 194]}, "axis": {"title": "Silicon-Based Ranking"}}, "text": {"field": "title", "type": "nominal"}}},
        {"mark": {"type": "text", "font": "Liberation Serif", "fontSize": 18, "align": "center", "baseline": "alphabetic", "color": "#111", "clip": false},
         "encoding": {"x": {"datum": 83.1, "type": "quantitative", "scale": {"domain": [0, 196]}, "axis": {"title": "True Ranking"}}, "y": {"datum": -74.3, "type": "quantitative", "scale": {"domain": [0, 194]}, "axis": {"title": "Silicon-Based Ranking"}}, "text": {"field": "label", "type": "nominal"}}}
      ]
    }
  ],
  "config": {
    "view": {"fill": "#c0c0c0", "stroke": "#8a8a8a", "strokeWidth": 1},
    "axis": {"domain": false, "ticks": false, "labels": false, "grid": false, "titleFont": "Liberation Sans", "titleFontSize": 16, "titleFontWeight": "normal", "titleColor": "#111"},
    "axisX": {"titlePadding": 5.5},
    "axisY": {"titlePadding": 6.5}
  }
}
